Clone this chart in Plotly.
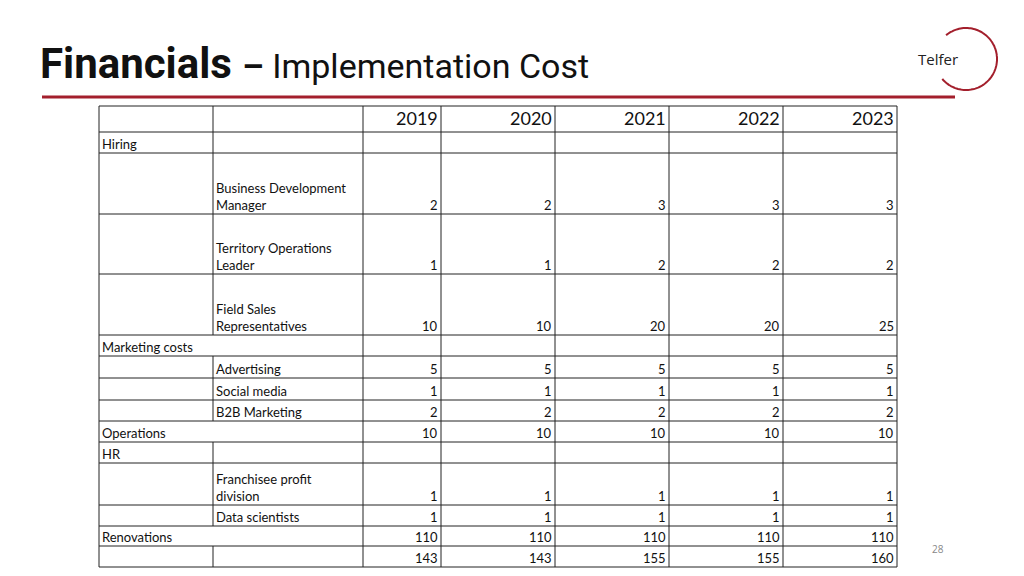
import plotly.graph_objects as go
import math

years = ["2019", "2020", "2021", "2022", "2023"]
col1_labels = ["Hiring", "", "", "", "Marketing costs", "", "", "", "Operations", "HR", "", "", "Renovations", ""]
col2_labels = ["", "Business Development<br>Manager", "Territory Operations<br>Leader",
               "Field Sales<br>Representatives", "", "Advertising", "Social media", "B2B Marketing",
               "", "", "Franchisee profit<br>division", "Data scientists", "", ""]
merged = [False, False, False, False, True, False, False, False, True, False, False, False, True, False]
v2019 = [None, 2, 1, 10, None, 5, 1, 2, 10, None, 1, 1, 110, 143]
v2020 = [None, 2, 1, 10, None, 5, 1, 2, 10, None, 1, 1, 110, 143]
v2021 = [None, 3, 2, 20, None, 5, 1, 2, 10, None, 1, 1, 110, 155]
v2022 = [None, 3, 2, 20, None, 5, 1, 2, 10, None, 1, 1, 110, 155]
v2023 = [None, 3, 2, 25, None, 5, 1, 2, 10, None, 1, 1, 110, 160]
values = [v2019, v2020, v2021, v2022, v2023]

xs = [99, 213, 363, 441, 555, 669, 783, 897]
ys = [106, 132, 153, 214, 274, 335, 356, 378, 400, 421, 442, 463, 505, 526, 546, 567]

fig = go.Figure()
shapes = []
ann = []
line = dict(color="#222", width=1)
for y in ys:
    shapes.append(dict(type="line", x0=xs[0], x1=xs[-1], y0=y, y1=y, line=line))
for r in range(len(ys) - 1):
    y0, y1 = ys[r], ys[r + 1]
    for i, x in enumerate(xs):
        if i == 1 and r >= 1 and merged[r - 1]:
            continue
        shapes.append(dict(type="line", x0=x, x1=x, y0=y0, y1=y1, line=line))

FONT = "Lato"
for j, yr in enumerate(years):
    ann.append(dict(x=xs[j + 3] - 1, y=ys[1] - 1, text=yr, xanchor="right", yanchor="bottom",
                    showarrow=False, font=dict(family=FONT, size=18, color="#111")))
for r in range(len(col1_labels)):
    ybot = ys[r + 2] + 1
    if col1_labels[r]:
        ann.append(dict(x=xs[0] + 1, y=ybot, text=col1_labels[r], xanchor="left", yanchor="bottom",
                        showarrow=False, font=dict(family=FONT, size=13, color="#111")))
    if col2_labels[r]:
        ann.append(dict(x=xs[1] + 1, y=ybot, text=col2_labels[r], xanchor="left", yanchor="bottom",
                        align="left", showarrow=False, font=dict(family=FONT, size=13, color="#111")))
    for j in range(5):
        v = values[j][r]
        if v is not None:
            ann.append(dict(x=xs[j + 3] - 1, y=ybot, text=str(v), xanchor="right", yanchor="bottom",
                            showarrow=False, font=dict(family=FONT, size=13, color="#111")))

ann.append(dict(x=38, y=90, text="<b>Financials</b> <b style='font-size:34px'>– </b><span style='font-size:34px'>Implementation Cost</span>",
                xanchor="left", yanchor="bottom", showarrow=False,
                font=dict(family="Roboto", size=42, color="#111")))
shapes.append(dict(type="line", x0=42, x1=955, y0=97, y1=97, line=dict(color="#a31f2c", width=3)))
cx, cy, rr = 966, 59, 31
pts = []
for k in range(0, 101):
    a = math.radians(-130 + 270 * k / 100)
    pts.append((cx + rr * math.cos(a), cy + rr * math.sin(a)))
path = "M " + " L ".join(f"{px:.1f},{py:.1f}" for px, py in pts)
shapes.append(dict(type="path", path=path, line=dict(color="#a31f2c", width=2)))
ann.append(dict(x=938, y=59, text="Telfer", showarrow=False, font=dict(family="Open Sans", size=15, color="#222")))
ann.append(dict(x=938, y=549, text="28", showarrow=False, font=dict(family="Open Sans", size=10, color="#888")))

for s in shapes:
    s.update(xref="x", yref="y")
for a in ann:
    a.update(xref="x", yref="y")

fig.update_layout(width=1024, height=576, margin=dict(l=0, r=0, t=0, b=0),
                  paper_bgcolor="white", plot_bgcolor="white", shapes=shapes, annotations=ann,
                  xaxis=dict(range=[0, 1024], visible=False),
                  yaxis=dict(range=[576, 0], visible=False), showlegend=False)
fig.write_html("out.html", config={"displayModeBar": False},
               post_script="document.body.style.margin='0';document.body.style.overflow='hidden';")
